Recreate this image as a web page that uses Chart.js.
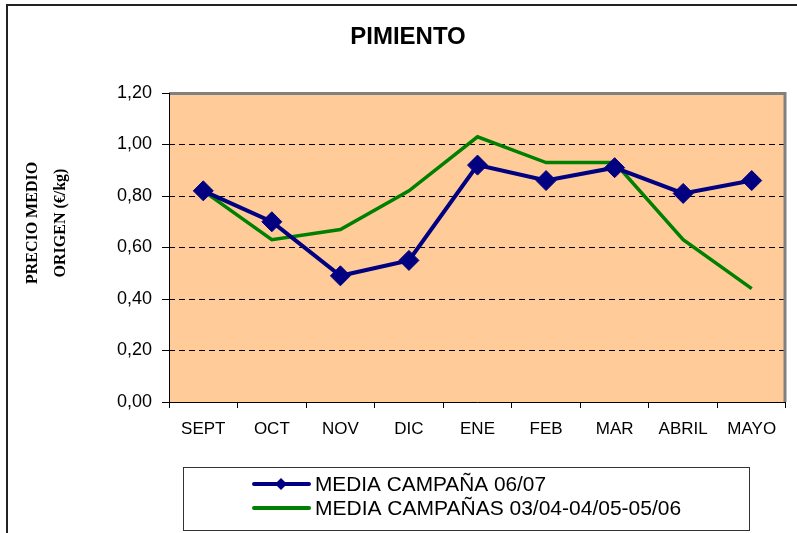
<!DOCTYPE html>
<html><head><meta charset="utf-8">
<script src="https://cdn.jsdelivr.net/npm/chart.js@4/dist/chart.umd.min.js"></script>
<style>html,body{margin:0;padding:0;background:#fff}#wrap{position:relative;width:797px;height:533px}</style>
</head><body><div id="wrap"><canvas id="c" width="797" height="533"></canvas></div>
<script>
const categories = ['SEPT','OCT','NOV','DIC','ENE','FEB','MAR','ABRIL','MAYO'];
const campana0607 = [0.82,0.70,0.49,0.55,0.92,0.86,0.91,0.81,0.86];
const campanas0306 = [0.82,0.63,0.67,0.82,1.03,0.93,0.93,0.63,0.44];
const seriesNames = ['MEDIA CAMPAÑA 06/07','MEDIA CAMPAÑAS 03/04-04/05-05/06'];
const chartTitle = 'PIMIENTO';
const yTitleLines = ['PRECIO MEDIO','ORIGEN (€/kg)'];
const yMin = 0, yMax = 1.2, yStep = 0.2;

const BLUE = '#000080', GREEN = '#008000', PEACH = '#FFCC99';
const SANS = '"Liberation Sans", Arial, sans-serif';
const SERIF = '"Liberation Serif", "Times New Roman", serif';

const decor = {
  id: 'decor',
  beforeDraw(chart) {
    const {ctx, chartArea: a} = chart;
    ctx.save();
    ctx.fillStyle = '#fff';
    ctx.fillRect(0, 0, chart.width, chart.height);
    ctx.strokeStyle = '#222';
    ctx.lineWidth = 2;
    ctx.beginPath();
    ctx.moveTo(7, chart.height);
    ctx.lineTo(7, 5);
    ctx.lineTo(chart.width, 5);
    ctx.stroke();
    ctx.fillStyle = PEACH;
    ctx.fillRect(a.left, a.top, a.right - a.left, a.bottom - a.top);
    ctx.restore();
  },
  beforeDatasetsDraw(chart) {
    const {ctx, chartArea: a} = chart;
    ctx.save();
    ctx.strokeStyle = '#808080';
    ctx.lineWidth = 3;
    ctx.beginPath();
    ctx.moveTo(a.left, a.top + 0.5);
    ctx.lineTo(a.right - 1, a.top + 0.5);
    ctx.lineTo(a.right - 1, a.bottom);
    ctx.stroke();
    ctx.strokeStyle = '#000';
    ctx.lineWidth = 1;
    ctx.beginPath();
    ctx.moveTo(a.left + 0.5, a.top);
    ctx.lineTo(a.left + 0.5, a.bottom + 0.5);
    ctx.lineTo(a.right, a.bottom + 0.5);
    ctx.stroke();
    ctx.restore();
  },
  afterDraw(chart) {
    const {ctx} = chart;
    ctx.save();
    ctx.fillStyle = '#000';
    ctx.font = 'bold 24px ' + SANS;
    ctx.textAlign = 'center';
    ctx.textBaseline = 'middle';
    ctx.fillText(chartTitle, 408, 37, 126);
    ctx.font = 'bold 16px ' + SERIF;
    const xs = [33, 61];
    yTitleLines.forEach((t, i) => {
      ctx.save();
      ctx.translate(xs[i], 223);
      ctx.rotate(-Math.PI / 2);
      ctx.fillText(t, 0, 0);
      ctx.restore();
    });
    ctx.strokeStyle = '#333';
    ctx.lineWidth = 1;
    ctx.strokeRect(183.5, 467.5, 566, 63);
    const rows = [
      {y: 484, color: BLUE, marker: true, text: seriesNames[0], w: 231},
      {y: 508, color: GREEN, marker: false, text: seriesNames[1], w: 371}
    ];
    rows.forEach(r => {
      ctx.strokeStyle = r.color;
      ctx.lineWidth = 4;
      ctx.lineCap = 'round';
      ctx.beginPath();
      ctx.moveTo(254, r.y);
      ctx.lineTo(309, r.y);
      ctx.stroke();
      if (r.marker) {
        ctx.fillStyle = r.color;
        ctx.beginPath();
        ctx.moveTo(281, r.y - 6);
        ctx.lineTo(287, r.y);
        ctx.lineTo(281, r.y + 6);
        ctx.lineTo(275, r.y);
        ctx.closePath();
        ctx.fill();
      }
      ctx.fillStyle = '#000';
      ctx.font = '21px ' + SANS;
      ctx.textAlign = 'left';
      ctx.textBaseline = 'middle';
      ctx.fillText(r.text, 315, r.y + 1, r.w);
    });
    ctx.restore();
  }
};

const isEdge = v => Math.abs(v - yMin) < 1e-9 || Math.abs(v - yMax) < 1e-9;

new Chart(document.getElementById('c'), {
  type: 'line',
  data: {
    labels: categories,
    datasets: [
      {
        label: seriesNames[0], data: campana0607,
        borderColor: BLUE, backgroundColor: BLUE, borderWidth: 4,
        pointStyle: 'rectRot', pointRadius: 10, pointBackgroundColor: BLUE,
        pointBorderColor: BLUE, pointBorderWidth: 1, tension: 0, fill: false
      },
      {
        label: seriesNames[1], data: campanas0306,
        borderColor: GREEN, backgroundColor: GREEN, borderWidth: 3.5,
        pointRadius: 0, tension: 0, fill: false
      }
    ]
  },
  options: {
    responsive: false, animation: false, devicePixelRatio: 1,
    layout: {padding: {top: 93, right: 6, bottom: 81, left: 0}},
    plugins: {legend: {display: false}, title: {display: false}, tooltip: {enabled: false}},
    scales: {
      x: {
        offset: true,
        grid: {display: true, offset: true, drawOnChartArea: false, drawTicks: true, tickLength: 6, tickColor: '#000', tickWidth: 1},
        border: {display: false},
        ticks: {color: '#000', font: {family: SANS, size: 17}, padding: 11, maxRotation: 0, autoSkip: false},
        afterFit(s) { s.height = 50; }
      },
      y: {
        min: yMin, max: yMax,
        grid: {
          color: ctx => (ctx.tick && isEdge(ctx.tick.value)) ? 'rgba(0,0,0,0)' : '#000',
          lineWidth: 1, drawTicks: true, tickLength: 7, tickColor: '#000', tickWidth: 1, tickBorderDash: []
        },
        border: {display: false, dash: [6, 4]},
        ticks: {
          stepSize: yStep, color: '#000', font: {family: SANS, size: 18}, padding: 10,
          callback: v => Number(v).toFixed(2).replace('.', ',')
        },
        afterFit(s) { s.width = 169; }
      }
    }
  },
  plugins: [decor]
});
</script></body></html>
